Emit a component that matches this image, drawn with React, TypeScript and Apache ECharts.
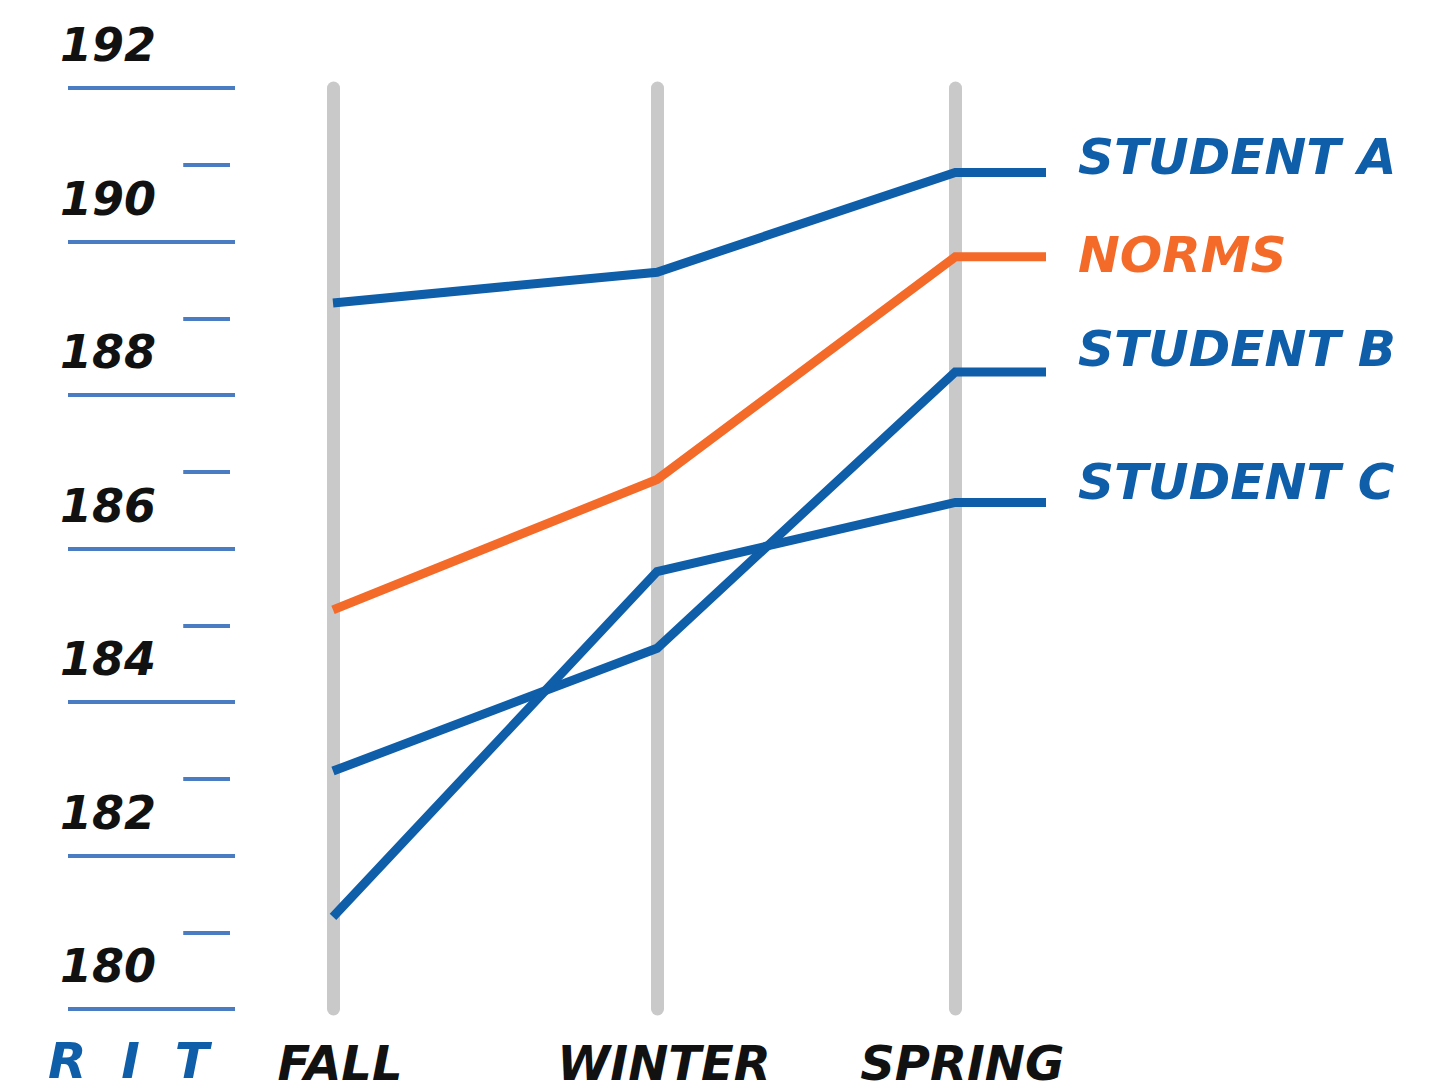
import React, { useEffect, useRef } from "react";
import * as echarts from "echarts";

// ---- data ----
const seasonLabels = ["FALL", "WINTER", "SPRING"];
const seasonPos = [0, 1, 1.92];
const leaderPos = 2.2;
const studentA = [189.2, 189.6, 190.9];
const norms = [185.2, 186.9, 189.8];
const studentB = [183.1, 184.7, 188.3];
const studentC = [181.2, 185.7, 186.6];
const seriesNames = ["STUDENT A", "NORMS", "STUDENT B", "STUDENT C"];
const minorTicks = [181, 183, 185, 187, 189, 191];
const yMin = 180;
const yMax = 192;
const axisTitle = "R  I  T";

const BLUE = "#0f5ea9";
const ORANGE = "#f46a28";
const AXIS_BLUE = "#4a7cc3";
const GRAY = "#c9c9c9";
const FONT = "'DejaVu Sans', sans-serif";

function build(values: number[]) {
  const pts = values.map((v, i) => [seasonPos[i], v]);
  pts.push([leaderPos, values[values.length - 1]]);
  return pts;
}

function lineSeries(name: string, values: number[], color: string, offset: number[]) {
  return {
    type: "line",
    name,
    xAxisIndex: 0,
    yAxisIndex: 0,
    data: build(values),
    symbol: "none",
    clip: false,
    z: 5,
    lineStyle: { color, width: 9, join: "miter" },
    endLabel: {
      show: true,
      formatter: name,
      color,
      fontFamily: FONT,
      fontSize: 50,
      fontWeight: "bold",
      fontStyle: "italic",
      offset,
    },
  };
}

export default function App() {
  const ref = useRef<HTMLDivElement>(null);
  useEffect(() => {
    if (!ref.current) return;
    const chart = echarts.init(ref.current, undefined, { renderer: "svg" });
    const option = {
      animation: false,
      backgroundColor: "#ffffff",
      grid: [
        { left: 333, top: 88, width: 713, height: 921 },
        { left: 68, top: 88, width: 167, height: 921 },
      ],
      xAxis: [
        {
          type: "value",
          gridIndex: 0,
          min: 0,
          max: leaderPos,
          axisLine: { show: false },
          axisTick: { show: false },
          splitLine: { show: false },
          axisLabel: {
            show: true,
            customValues: seasonPos,
            formatter: (v: number) => {
              const i = seasonPos.findIndex((p) => Math.abs(p - v) < 1e-6);
              return i >= 0 ? seasonLabels[i] : "";
            },
            margin: 30,
            lineHeight: 48,
            padding: [0, 0, 0, 14],
            color: "#111111",
            fontFamily: FONT,
            fontSize: 48,
            fontWeight: "bold",
            fontStyle: "italic",
          },
        },
        {
          type: "value",
          gridIndex: 1,
          min: 0,
          max: 1,
          show: false,
        },
      ],
      yAxis: [
        {
          type: "value",
          gridIndex: 0,
          min: yMin,
          max: yMax,
          show: false,
        },
        {
          type: "value",
          gridIndex: 1,
          min: yMin,
          max: yMax,
          interval: 2,
          axisLine: { show: false },
          axisTick: { show: false },
          splitLine: { show: true, lineStyle: { color: AXIS_BLUE, width: 4 } },
          axisLabel: {
            inside: true,
            margin: -8,
            align: "left",
            verticalAlign: "bottom",
            padding: [0, 0, 20, 0],
            color: "#111111",
            fontFamily: FONT,
            fontSize: 46,
            fontWeight: "bold",
            fontStyle: "italic",
          },
        },
      ],
      graphic: [
        {
          type: "text",
          left: 48,
          top: 1036,
          style: {
            text: axisTitle,
            fill: BLUE,
            font: `italic bold 50px ${FONT}`,
            lineHeight: 50,
          },
        },
      ],
      series: [
        {
          type: "line",
          xAxisIndex: 0,
          yAxisIndex: 0,
          data: [],
          silent: true,
          z: 1,
          markLine: {
            silent: true,
            symbol: "none",
            label: { show: false },
            lineStyle: { color: GRAY, width: 13, type: "solid", cap: "round" },
            data: seasonPos.map((p) => ({ xAxis: p })),
          },
        },
        {
          type: "line",
          xAxisIndex: 1,
          yAxisIndex: 1,
          data: [],
          silent: true,
          markLine: {
            silent: true,
            symbol: "none",
            label: { show: false },
            lineStyle: { color: AXIS_BLUE, width: 4, type: "solid" },
            data: minorTicks.map((t) => [
              { coord: [0.69, t] },
              { coord: [0.97, t] },
            ]),
          },
        },
        lineSeries(seriesNames[0], studentA, BLUE, [24, -15]),
        lineSeries(seriesNames[1], norms, ORANGE, [24, -2]),
        lineSeries(seriesNames[2], studentB, BLUE, [24, -23]),
        lineSeries(seriesNames[3], studentC, BLUE, [24, -20]),
      ],
    };
    chart.setOption(option as any);
    return () => chart.dispose();
  }, []);
  return (
    <div
      ref={ref}
      style={{ position: "absolute", left: 0, top: 0, width: 1450, height: 1090 }}
    />
  );
}
